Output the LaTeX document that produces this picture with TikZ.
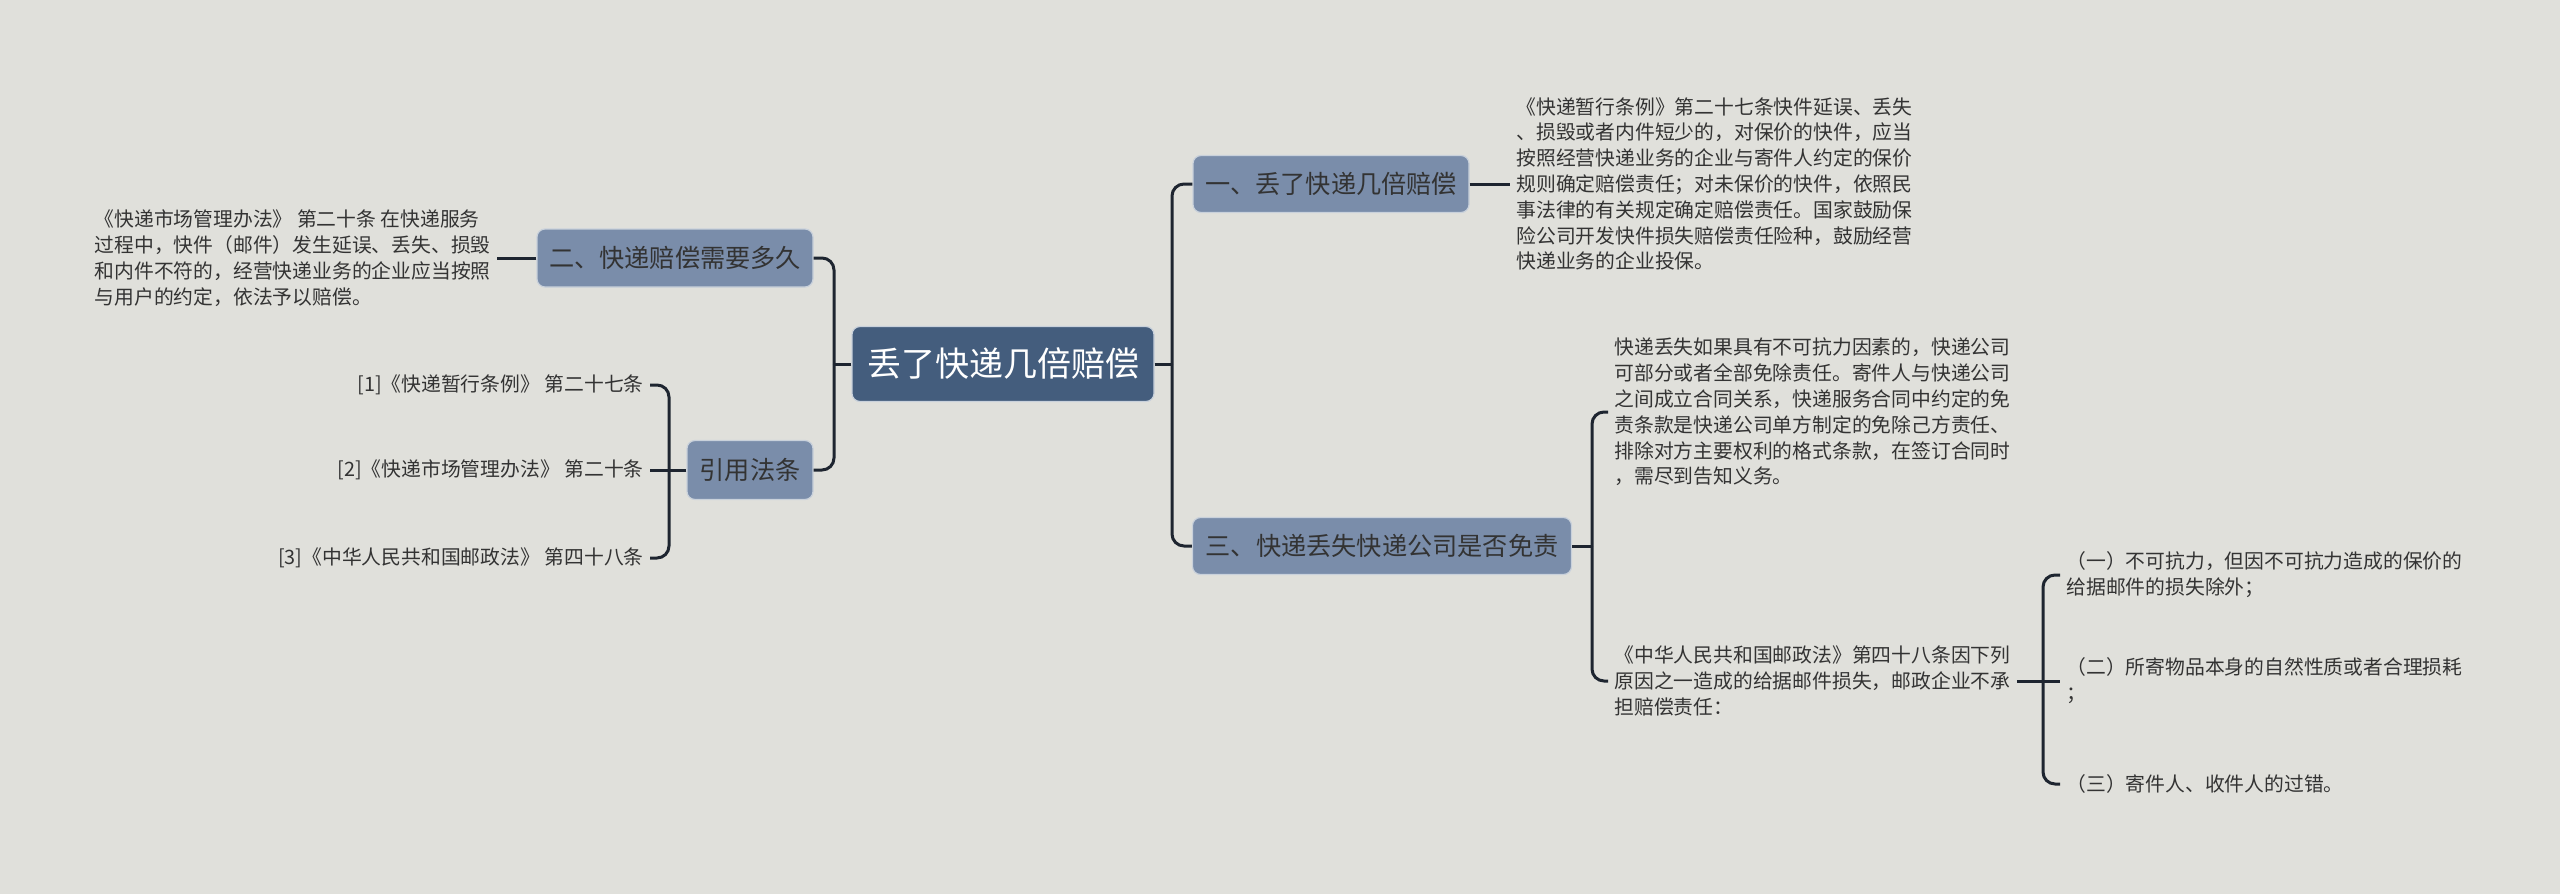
\documentclass[tikz,border=0pt]{standalone}
\usepackage{fontspec}
\setmainfont{Noto Sans CJK SC}
\definecolor{bg}{HTML}{E0E0DB}
\definecolor{rootfill}{HTML}{445D7D}
\definecolor{subfill}{HTML}{7A8DAA}
\definecolor{edge}{HTML}{1E2530}
\definecolor{txt}{HTML}{333333}
\definecolor{rim}{HTML}{C9D1DB}
\tikzset{
  rootbox/.style={rectangle, rounded corners=4pt, fill=rootfill, draw=rim, line width=0.6pt,
    text=white, font=\fontsize{17pt}{20pt}\selectfont, minimum width=151pt, minimum height=37.5pt, inner sep=0pt},
  subbox/.style={rectangle, rounded corners=4pt, fill=subfill, draw=rim, line width=0.6pt,
    text=txt, font=\fontsize{12.6pt}{15pt}\selectfont, minimum height=28.5pt, inner sep=0pt},
  leaf/.style={align=left, text=txt, font=\fontsize{9.9pt}{12.9pt}\selectfont, inner xsep=3pt, inner ysep=0pt},
  leafr/.style={align=right, text=txt, font=\fontsize{9.9pt}{12.9pt}\selectfont, inner xsep=3pt, inner ysep=0pt},
  conn/.style={draw=edge, line width=1.5pt},
  rconn/.style={draw=edge, line width=1.5pt, rounded corners=6pt}
}
\begin{document}
\begin{tikzpicture}[x=0.5pt, y=-0.5pt]
\useasboundingbox (0,0) rectangle (2560,894);
\fill[bg] (0,0) rectangle (2560,894);

% main nodes
\node[rootbox] (c) at (1003,364) {丢了快递几倍赔偿};
\node[subbox, minimum width=138pt] (n1) at (1331,184) {一、丢了快递几倍赔偿};
\node[subbox, minimum width=138pt, minimum height=29pt] (n2) at (675,258) {二、快递赔偿需要多久};
\node[subbox, minimum width=63pt, minimum height=29.5pt] (ref) at (750,470) {引用法条};
\node[subbox, minimum width=189.5pt] (n3) at (1382,546) {三、快递丢失快递公司是否免责};

% leaf texts
\node[leaf, anchor=west] (t1) at (1510,184) {《快递暂行条例》第二十七条快件延误、丢失\\
、损毁或者内件短少的，对保价的快件，应当\\
按照经营快递业务的企业与寄件人约定的保价\\
规则确定赔偿责任；对未保价的快件，依照民\\
事法律的有关规定确定赔偿责任。国家鼓励保\\
险公司开发快件损失赔偿责任险种，鼓励经营\\
快递业务的企业投保。};

\node[leaf, anchor=east] (t2) at (497,258) {《快递市场管理办法》 第二十条 在快递服务\\
过程中，快件（邮件）发生延误、丢失、损毁\\
和内件不符的，经营快递业务的企业应当按照\\
与用户的约定，依法予以赔偿。};

\node[leafr, anchor=east] (r1) at (650,385) {[1]《快递暂行条例》 第二十七条};
\node[leafr, anchor=east] (r2) at (650,470) {[2]《快递市场管理办法》 第二十条};
\node[leafr, anchor=east] (r3) at (650,558) {[3]《中华人民共和国邮政法》 第四十八条};

\node[leaf, anchor=west] (t3a) at (1608,412) {快递丢失如果具有不可抗力因素的，快递公司\\
可部分或者全部免除责任。寄件人与快递公司\\
之间成立合同关系，快递服务合同中约定的免\\
责条款是快递公司单方制定的免除己方责任、\\
排除对方主要权利的格式条款，在签订合同时\\
，需尽到告知义务。};

\node[leaf, anchor=west] (t3b) at (1608,681) {《中华人民共和国邮政法》第四十八条因下列\\
原因之一造成的给据邮件损失，邮政企业不承\\
担赔偿责任：};

\node[leaf, anchor=west] (s1) at (2060,575) {（一）不可抗力，但因不可抗力造成的保价的\\
给据邮件的损失除外；};
\node[leaf, anchor=west] (s2) at (2060,681) {（二）所寄物品本身的自然性质或者合理损耗\\
；};
\node[leaf, anchor=west] (s3) at (2060,784) {（三）寄件人、收件人的过错。};

% junction coordinates
\coordinate (jl) at (834,364);
\coordinate (jr) at (1172,364);
\coordinate (jref) at (669,470);
\coordinate (j3) at (1592,546);
\coordinate (j4) at (2043,681);

% connectors
\draw[conn] (c.west) -- (jl);
\draw[rconn] (jl) |- (n2.east);
\draw[rconn] (jl) |- (ref.east);
\draw[conn] (c.east) -- (jr);
\draw[rconn] (jr) |- (n1.west);
\draw[rconn] (jr) |- (n3.west);
\draw[conn] (n1.east) -- (t1.west);
\draw[conn] (n2.west) -- (t2.east);
\draw[conn] (ref.west) -- (jref);
\draw[rconn] (jref) |- (r1.east);
\draw[rconn] (jref) |- (r3.east);
\draw[conn] (jref) -- (r2.east);
\draw[conn] (n3.east) -- (j3);
\draw[rconn] (j3) |- (t3a.west);
\draw[rconn] (j3) |- (t3b.west);
\draw[conn] (t3b.east) -- (j4);
\draw[rconn] (j4) |- (s1.west);
\draw[rconn] (j4) |- (s3.west);
\draw[conn] (j4) -- (s2.west);
\end{tikzpicture}
\end{document}
